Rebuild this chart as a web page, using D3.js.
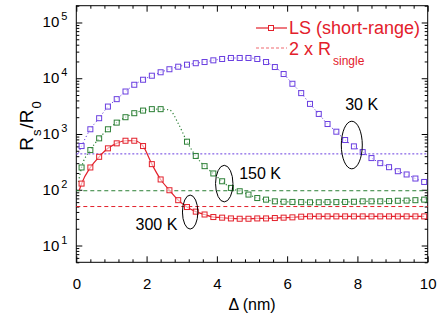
<!DOCTYPE html>
<html><head><meta charset="utf-8">
<script src="https://cdn.jsdelivr.net/npm/d3@7/dist/d3.min.js"></script>
<style>body{margin:0;background:#fff}svg{display:block}text{font-family:"Liberation Sans",Arial,Helvetica,sans-serif}</style>
</head><body><svg id="c" width="438" height="322"></svg>
<script>
// Δ (nm) sample positions (markers)
const delta = [0.15,0.4,0.65,0.9,1.15,1.4,1.65,1.9,2.15,2.4,2.65,2.9,3.15,3.4,3.65,3.9,4.15,4.4,4.65,4.9,
               5.15,5.4,5.65,5.9,6.15,6.4,6.65,6.9,7.15,7.4,7.65,7.9,8.15,8.4,8.65,8.9,9.15,9.4,9.65,9.9];
// R_s/R_0 for each temperature
const ls300K = [129,251,390,553,680,757,757,608,288,153,98,65,49,40.5,36,32.4,31.6,30.6,30.2,30.2,
                30.6,30.6,31.1,31.6,32,32.9,33.3,33.3,33.3,33.3,33.3,33.3,33.3,33.3,33.3,33.3,33.3,33.3,33.3,33.3];
const ls150K = [251,515,836,1215,1600,2000,2360,2630,2790,2790,2700,1550,728,404,265,196,142,108,94,82,
                71,66.5,62,61,60.5,60,59.6,59.6,60,60,60.5,61,62,62,62,62.5,63.5,64,65,66.5];
const ls30K  = [608,1216,1919,3105,4217,5780,7640,9400,11100,12800,14500,16100,17500,18600,19540,20950,22150,23080,23080,23080,
                22150,19540,15890,11900,7960,5410,3470,2290,1510,1100,780,600,474,370,300,254,215,188,159,138];
// curve start (line only, no marker) near Δ = 0
const startDelta = [0.085,0.06,0.06];
const startValue = [98,138,450];
// Δ values of the 150 K curve that carry no marker
const ls150NoMarker = [2.65,2.9];
// 2 x R_single reference levels
const singleTemps = ["300 K","150 K","30 K"];
const singleLevels = [50,96,440];
const xTicks = [0,2,4,6,8,10];
const yTicks = [1e1,1e2,1e3,1e4,1e5];
const yExp = ["1","2","3","4","5"];

const svg = d3.select("#c");
const L=76.3, R=427.7, T=5.7, B=262.3;
const x = d3.scaleLinear().domain([0,10]).range([L,R]);
const y = d3.scaleLog().domain([5,2e5]).range([B,T]);

const colors = {"300 K":"#e3202b","150 K":"#2b7f35","30 K":"#6a3fe0"};

const xMinor = d3.range(0,10.001,0.4).filter(v=>Math.abs(v/2-Math.round(v/2))>1e-6);
const yMinor = [];
for(let e=0;e<6;e++) for(let m=2;m<10;m++){const v=m*Math.pow(10,e); if(v>=5&&v<=2e5) yMinor.push(v);}

function ax(gen, tr){ return svg.append("g").attr("transform",tr).call(gen); }
const styleAxis = g => { g.select(".domain").remove(); g.selectAll("line").attr("stroke","#000"); };

ax(d3.axisBottom(x).tickValues(xTicks).tickSize(-6).tickPadding(16).tickFormat(d3.format("d")),`translate(0,${B})`)
  .call(styleAxis).call(g=>g.selectAll("text").attr("font-size",15).attr("fill","#000"));
ax(d3.axisBottom(x).tickValues(xMinor).tickSize(-3).tickFormat(""),`translate(0,${B})`).call(styleAxis);
ax(d3.axisTop(x).tickValues(xTicks).tickSize(-6).tickFormat(""),`translate(0,${T})`).call(styleAxis);
ax(d3.axisTop(x).tickValues(xMinor).tickSize(-3).tickFormat(""),`translate(0,${T})`).call(styleAxis);
ax(d3.axisLeft(y).tickValues(yTicks).tickSize(-6).tickFormat(""),`translate(${L},0)`).call(styleAxis);
ax(d3.axisLeft(y).tickValues(yMinor).tickSize(-3).tickFormat(""),`translate(${L},0)`).call(styleAxis);
ax(d3.axisRight(y).tickValues(yTicks).tickSize(-6).tickFormat(""),`translate(${R},0)`).call(styleAxis);
ax(d3.axisRight(y).tickValues(yMinor).tickSize(-3).tickFormat(""),`translate(${R},0)`).call(styleAxis);

// y tick labels 10^n
svg.append("g").selectAll("text").data(yTicks).join("text")
  .attr("x", L-17).attr("y", d=>y(d)+5).attr("text-anchor","end").attr("font-size",15).text("10");
svg.append("g").selectAll("text").data(yTicks).join("text")
  .attr("x", L-9).attr("y", d=>y(d)-2).attr("text-anchor","end").attr("font-size",11)
  .text((d,i)=>yExp[i]);

// frame
svg.append("rect").attr("x",L).attr("y",T).attr("width",R-L).attr("height",B-T)
  .attr("fill","none").attr("stroke","#000").attr("stroke-width",1);

// reference lines
svg.append("g").selectAll("line").data(singleLevels).join("line")
  .attr("x1",L).attr("x2",R).attr("y1",d=>y(d)).attr("y2",d=>y(d))
  .attr("stroke",(d,i)=>colors[singleTemps[i]]).attr("stroke-width",1)
  .attr("stroke-dasharray",(d,i)=>i===2?"2,2":"4,3");

const series = [
  {name:"30 K", vals:ls30K, si:2, dash:"1.2,2.4", width:1, hide:[]},
  {name:"150 K", vals:ls150K, si:1, dash:"1.2,2.4", width:1.2, hide:ls150NoMarker},
  {name:"300 K", vals:ls300K, si:0, dash:null, width:1.2, hide:[]}
];
const line = d3.line().x(d=>x(d[0])).y(d=>y(d[1])).curve(d3.curveMonotoneX);
series.forEach(s=>{
  const pts = delta.map((d,i)=>[d,s.vals[i]]);
  const linePts = [[startDelta[s.si],startValue[s.si]]].concat(pts);
  svg.append("path").datum(linePts).attr("d",line).attr("fill","none")
    .attr("stroke",colors[s.name]).attr("stroke-width",s.width)
    .attr("stroke-dasharray",s.dash);
  svg.append("g").selectAll("rect").data(pts.filter(p=>!s.hide.includes(p[0]))).join("rect")
    .attr("x",d=>x(d[0])-2.5).attr("y",d=>y(d[1])-2.5).attr("width",5).attr("height",5)
    .attr("fill","#fff").attr("fill-opacity",0.6).attr("stroke",colors[s.name]).attr("stroke-width",1);
});

// annotations (ellipses + temperature labels)
const annTemp = ["30 K","150 K","300 K"];
const annCx = [7.84,4.21,3.24], annCv = [634,129,39.8];
const annRx = [10.5,8.7,7.7], annRy = [23.8,18.3,17];
const labX = [8.12,5.23,2.28], labV = [2700,155,18.6];
svg.append("g").selectAll("ellipse").data(annTemp).join("ellipse")
  .attr("cx",(d,i)=>x(annCx[i])).attr("cy",(d,i)=>y(annCv[i]))
  .attr("rx",(d,i)=>annRx[i]).attr("ry",(d,i)=>annRy[i])
  .attr("fill","none").attr("stroke","#000").attr("stroke-width",1);
svg.append("g").selectAll("text").data(annTemp).join("text")
  .attr("x",(d,i)=>x(labX[i])).attr("y",(d,i)=>y(labV[i])).attr("text-anchor","middle")
  .attr("font-size",16).text(d=>d);

// legend
const lg = svg.append("g");
lg.append("line").attr("x1",256).attr("x2",287).attr("y1",28).attr("y2",28).attr("stroke",colors["300 K"]).attr("stroke-width",1.2);
lg.append("rect").attr("x",268.5).attr("y",25.5).attr("width",5).attr("height",5).attr("fill","#fff").attr("stroke",colors["300 K"]);
lg.append("text").attr("x",289).attr("y",33.5).attr("font-size",18).attr("fill",colors["300 K"]).text("LS (short-range)");
lg.append("line").attr("x1",256).attr("x2",287).attr("y1",48).attr("y2",48).attr("stroke","#f06a70").attr("stroke-width",1.2).attr("stroke-dasharray","3,2");
const t2 = lg.append("text").attr("x",289).attr("y",55).attr("font-size",18).attr("fill",colors["300 K"]);
t2.append("tspan").text("2 x R");
t2.append("tspan").attr("dx",2).attr("dy",10).attr("font-size",12).text("single");

// axis titles
svg.append("text").attr("x",(L+R)/2).attr("y",310).attr("text-anchor","middle").attr("font-size",16).text("Δ (nm)");
const yt = svg.append("text").attr("transform",`translate(33,126) rotate(-90)`).attr("text-anchor","middle").attr("font-size",19);
yt.append("tspan").text("R");
yt.append("tspan").attr("dx",1).attr("dy",8).attr("font-size",13).text("s");
yt.append("tspan").attr("dx",1).attr("dy",-8).text("/R");
yt.append("tspan").attr("dx",1).attr("dy",8).attr("font-size",13).text("0");
</script></body></html>
